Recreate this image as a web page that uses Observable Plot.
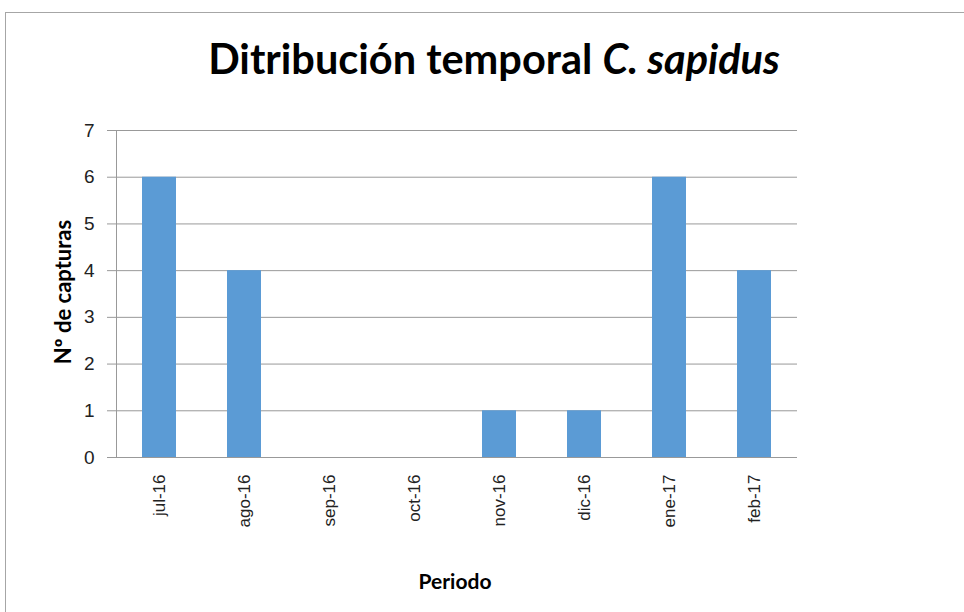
<!DOCTYPE html>
<html>
<head>
<meta charset="utf-8">
<script src="https://cdn.jsdelivr.net/npm/d3@7"></script>
<script src="https://cdn.jsdelivr.net/npm/@observablehq/plot@0.6"></script>
<style>
  html, body { margin: 0; padding: 0; background: #fff; }
  #wrap { position: relative; width: 964px; height: 612px; overflow: hidden; }
  #frame { position: absolute; left: 5px; top: 12px; width: 1000px; height: 700px; border: 1px solid #a6a6a6; box-sizing: border-box; }
  #title { position: absolute; left: 0; width: 988px; top: 58px; transform: translateY(-50%); text-align: center; font-family: Lato, "Open Sans", sans-serif; font-weight: bold; font-size: 41.5px; color: #000; white-space: nowrap; }
  #ylabel { position: absolute; left: 62px; top: 292px; transform: translate(-50%, -50%) rotate(-90deg); font-family: Lato, sans-serif; font-weight: bold; font-size: 22px; white-space: nowrap; }
  #xlabel { position: absolute; left: 455px; top: 580px; transform: translate(-50%, -50%); font-family: Lato, sans-serif; font-weight: bold; font-size: 21px; }
  #chart { position: absolute; left: 0; top: 0; }
</style>
</head>
<body>
<div id="wrap">
  <div id="frame"></div>
  <div id="chart"></div>
  <div id="title">Ditribución temporal <i>C. sapidus</i></div>
  <div id="ylabel">Nº de capturas</div>
  <div id="xlabel">Periodo</div>
</div>
<script>
const months = ["jul-16", "ago-16", "sep-16", "oct-16", "nov-16", "dic-16", "ene-17", "feb-17"];
const captures = [6, 4, 0, 0, 1, 1, 6, 4];
const yTicks = [0, 1, 2, 3, 4, 5, 6, 7];

const data = months.map((m, i) => ({month: m, count: captures[i]}));

const chart = Plot.plot({
  width: 964,
  height: 612,
  marginLeft: 116,
  marginRight: 167,
  marginTop: 130,
  marginBottom: 155,
  style: {fontFamily: "'Liberation Sans', Arial, sans-serif", background: "transparent"},
  x: {domain: months, paddingInner: 0.6, paddingOuter: 0.3, label: null},
  y: {domain: [0, 7], label: null},
  marks: [
    Plot.gridY(yTicks, {stroke: "#999", strokeOpacity: 1}),
    Plot.axisY(yTicks, {tickSize: 9, stroke: "#999", tickPadding: 13, fontSize: 19, fill: "#222", label: null}),
    Plot.axisX({tickSize: 0, tickRotate: -90, tickPadding: 17, fontSize: 17, fill: "#222", label: null}),
    Plot.barY(data, {x: "month", y: "count", fill: "#5B9BD5"}),
    Plot.frame({anchor: "left", stroke: "#999"}),
    Plot.ruleY([0], {stroke: "#999"})
  ]
});
document.getElementById("chart").appendChild(chart);
</script>
</body>
</html>
